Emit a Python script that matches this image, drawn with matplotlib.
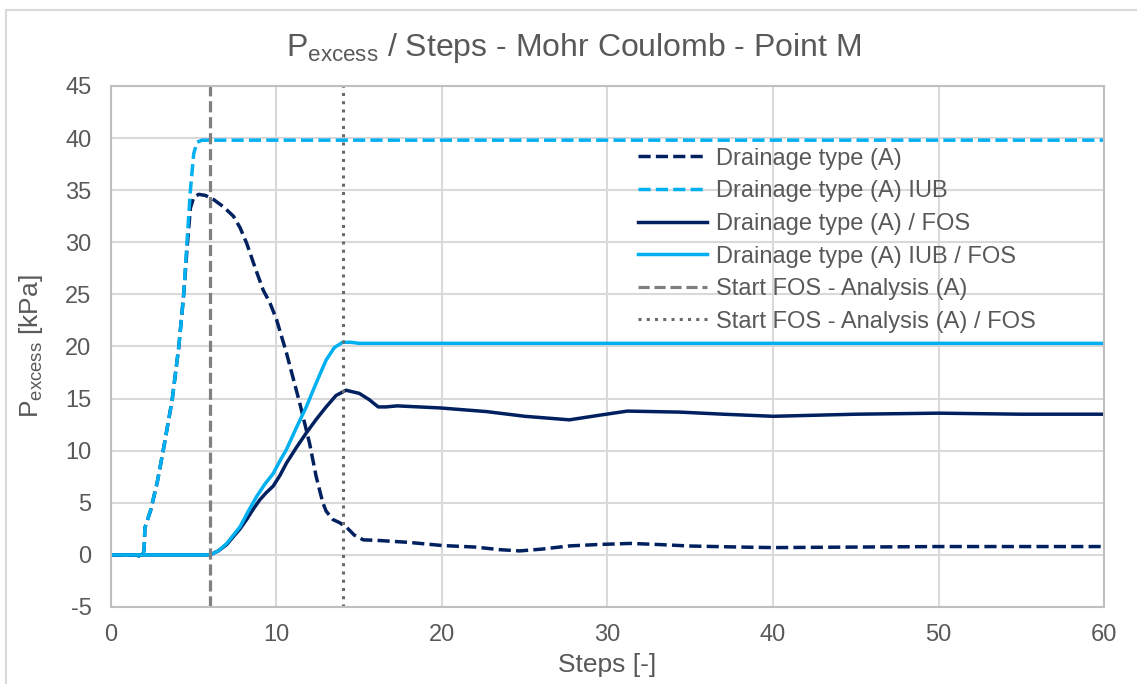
"""P_excess vs steps chart (Mohr Coulomb, point M)."""

import matplotlib
matplotlib.use("Agg")
import matplotlib.pyplot as plt
from matplotlib.lines import Line2D

plt.rcParams["font.family"] = ["Liberation Sans", "DejaVu Sans"]
plt.rcParams["mathtext.fontset"] = "custom"
plt.rcParams["mathtext.rm"] = "Liberation Sans"
plt.rcParams["axes.unicode_minus"] = False

TEXT = "#595959"
NAVY = "#002060"
CYAN = "#00B0F0"

# Drainage type (A)
drain_x = [0, 1.5, 1.9, 2.0, 2.05, 2.4, 2.8, 3.2, 3.7, 4.1, 4.4, 4.6, 4.8, 5.0,
           5.3, 5.7, 6.2, 6.8, 7.4, 7.8, 8.2, 8.7, 9.2, 9.6, 10.0, 10.6, 11.0,
           11.4, 12.0, 12.4, 12.8, 13.0, 13.4, 13.8, 14.2, 14.7, 15.25, 16, 18,
           20, 22, 23.5, 24.7, 26, 27.7, 29.5, 31.4, 33, 35, 38, 40, 45, 50, 55, 60]
drain_y = [0, 0, -0.2, 0.5, 2.6, 4.3, 7.0, 10.4, 14.9, 20.0, 25.1, 29.5, 33.3, 34.3,
           34.6, 34.5, 34.1, 33.4, 32.5, 31.4, 29.9, 27.6, 25.4, 24.2, 22.6, 19.4, 17.0,
           14.6, 10.7, 7.5, 5.0, 4.2, 3.4, 3.1, 2.7, 1.9, 1.44, 1.4, 1.2,
           0.9, 0.75, 0.5, 0.38, 0.55, 0.86, 1.0, 1.1, 1.0, 0.85, 0.75, 0.7, 0.75, 0.8, 0.8, 0.8]

# Drainage type (A) IUB
iub_x = [0, 1.5, 1.9, 2.0, 2.05, 2.4, 2.8, 3.2, 3.7, 4.1, 4.4, 4.6, 4.8, 5.0,
         5.2, 5.5, 6, 60]
iub_y = [0, 0, -0.2, 0.5, 2.6, 4.3, 7.0, 10.4, 14.9, 20.0, 25.1, 30.2, 35.0, 38.5,
         39.6, 39.8, 39.8, 39.8]

# Drainage type (A) / FOS
fos_x = [0, 6, 6.5, 7, 7.4, 7.8, 8.2, 8.6, 9.0, 9.4, 9.8, 10.2, 10.6, 11.2, 11.8,
         12.4, 13.0, 13.6, 14.2, 15.0, 15.6, 16.15, 16.6, 17.3, 19.9, 22.7, 25,
         27.7, 29.5, 31.2, 34.4, 37, 40, 45, 50, 55, 60]
fos_y = [0, 0, 0.4, 1.0, 1.76, 2.5, 3.4, 4.4, 5.3, 6.0, 6.6, 7.6, 8.8, 10.3, 11.7,
         13.0, 14.2, 15.3, 15.8, 15.5, 14.9, 14.2, 14.2, 14.3, 14.1, 13.75, 13.3,
         12.96, 13.4, 13.8, 13.7, 13.5, 13.3, 13.5, 13.6, 13.5, 13.5]

# Drainage type (A) IUB / FOS
iub_fos_x = [0, 6, 6.5, 7, 7.8, 8.3, 8.8, 9.3, 9.8, 10.2, 10.6, 11.2, 11.8, 12.4,
             13.0, 13.5, 14.0, 14.5, 15, 60]
iub_fos_y = [0, 0, 0.4, 1.1, 2.7, 4.2, 5.6, 6.8, 7.8, 9.0, 10.1, 12.2, 14.2, 16.5,
             18.7, 19.9, 20.4, 20.4, 20.3, 20.3]

# start markers of the FOS analysis
start_x = [6, 6]
start_fos_x = [14, 14]
start_y = [-5, 45]

fig = plt.figure(figsize=(11.37, 6.84), dpi=100)
ax = fig.add_axes([0.0976, 0.1126, 0.8734, 0.7617])

ax.plot(drain_x, drain_y, color=NAVY, lw=2.5, ls=(0, (3.5, 1.5)),
        label="Drainage type (A)")
ax.plot(iub_x, iub_y, color=CYAN, lw=2.5, ls=(0, (3.5, 1.5)),
        label="Drainage type (A) IUB")
ax.plot(fos_x, fos_y, color=NAVY, lw=2.5, label="Drainage type (A) / FOS")
ax.plot(iub_fos_x, iub_fos_y, color=CYAN, lw=2.5,
        label="Drainage type (A) IUB / FOS")
ax.plot(start_x, start_y, color="#808080", lw=2.3, ls=(0, (3.5, 1.5)),
        label="Start FOS - Analysis (A)")
ax.plot(start_fos_x, start_y, color="#6a6a6a", lw=2.2, ls=(0, (1, 1.7)),
        label="Start FOS - Analysis (A) / FOS")

ax.set_xlim(0, 60)
ax.set_ylim(-5, 45)
ax.set_xticks(range(0, 61, 10))
ax.set_yticks(range(-5, 46, 5))
ax.grid(True, color="#d9d9d9", lw=1.5)
ax.set_axisbelow(True)
for sp in ax.spines.values():
    sp.set_color("#bfbfbf")
    sp.set_linewidth(1.5)
ax.tick_params(length=0, labelsize=17, labelcolor=TEXT)
ax.tick_params(axis="x", pad=12)
ax.tick_params(axis="y", pad=14)

ax.set_xlabel("Steps [-]", fontsize=19, color=TEXT)
ax.xaxis.set_label_coords(0.5, -0.089)
ax.set_ylabel(r"P$_{\mathregular{excess}}$ [kPa]", fontsize=19, color=TEXT)
ax.yaxis.set_label_coords(-0.066, 0.5)

fig.text(574 / 1137, 1 - 48 / 684,
         r"P$_{\mathregular{excess}}$ / Steps - Mohr Coulomb - Point M",
         fontsize=23, color=TEXT, ha="center", va="center")

leg = ax.legend(loc="center left", bbox_to_anchor=(0.531, 0.704), frameon=False,
                fontsize=17, handlelength=2.9, handletextpad=0.4,
                labelspacing=0.45, borderpad=0, borderaxespad=0)
for t in leg.get_texts():
    t.set_color(TEXT)

# outer chart frame (partly cut off in the original)
fig.add_artist(Line2D([0.0053, 0.0053], [0, 0.985], color="#d9d9d9", lw=1.5,
                      transform=fig.transFigure))
fig.add_artist(Line2D([0.0053, 1], [0.985, 0.985], color="#d9d9d9", lw=1.5,
                      transform=fig.transFigure))

fig.savefig("out.png", dpi=100)
